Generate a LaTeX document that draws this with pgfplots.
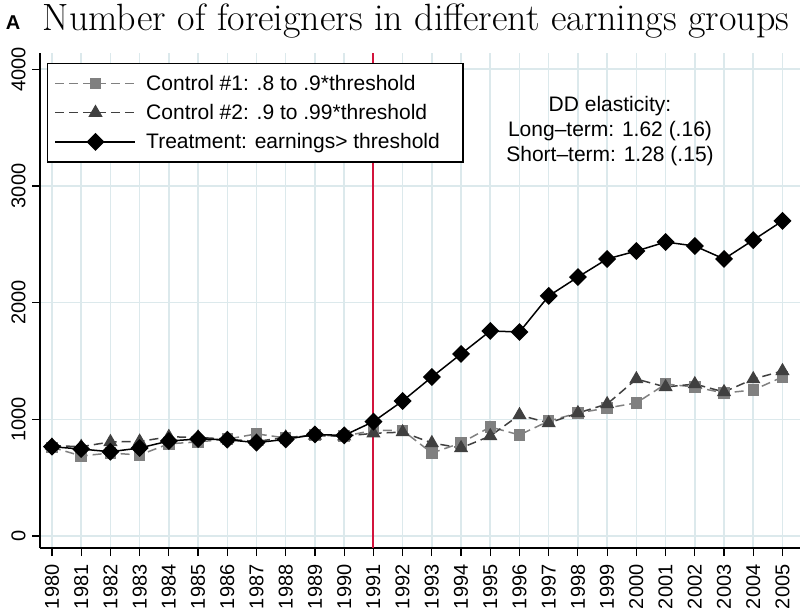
\documentclass[border=0pt]{standalone}
\usepackage{pgfplots}
\pgfplotsset{compat=1.18}
\usepackage{fontspec}
\newfontfamily\hv[Ligatures=TeX]{Liberation Sans}
\definecolor{gridc}{RGB}{220,233,236}
\definecolor{cone}{RGB}{128,128,128}
\definecolor{ctwo}{RGB}{64,64,64}
\definecolor{vred}{RGB}{210,20,60}

\pgfplotstableread{
year c1 c2 tr
1980 760 775 765
1981 686 765 745
1982 711 806 722
1983 694 810 754
1984 790 850 814
1985 806 845 831
1986 830 830 825
1987 875 810 800
1988 840 845 828
1989 865 860 870
1990 855 855 862
1991 905 880 980
1992 905 890 1157
1993 711 797 1362
1994 797 754 1560
1995 934 857 1757
1996 866 1037 1748
1997 985 968 2057
1998 1054 1054 2219
1999 1097 1131 2374
2000 1140 1345 2442
2001 1302 1277 2519
2002 1277 1302 2485
2003 1225 1234 2374
2004 1251 1345 2536
2005 1362 1414 2700
}\data

\begin{document}
\begin{tikzpicture}[x=1pt,y=1pt]
\path[use as bounding box] (0,0) rectangle (800,611);
\begin{axis}[
  at={(40pt,63pt)}, anchor=south west,
  scale only axis, width=760pt, height=495pt,
  xmin=1979.59, xmax=2005.6, ymin=-103, ymax=4139,
  axis x line*=bottom, axis y line*=left,
  axis line style={black, line width=1.2pt},
  xtick={1980,...,2005}, ytick={0,1000,2000,3000,4000},
  tick align=outside, major tick length=8pt,
  tick style={black, line width=1.2pt},
  grid=major, major grid style={gridc, line width=1.5pt},
  /pgf/number format/assume math mode=true,
  /pgf/number format/1000 sep={},
  tick label style={font=\hv\fontsize{20}{20}\selectfont},
  xticklabel style={rotate=90, anchor=east},
  yticklabel style={rotate=90, anchor=south},
  xticklabel shift=5pt, yticklabel shift=3pt,
  legend style={at={(0.0092,0.98)}, anchor=north west, draw=black, line width=1.5pt,
    font=\hv\fontsize{21}{24}\selectfont, fill=white, inner xsep=7pt, inner ysep=9.5pt,
    row sep=8.5pt, cells={anchor=west}},
  legend cell align=left,
  legend image code/.code={\draw[mark repeat=2,mark phase=2] plot coordinates {(0pt,0pt) (40pt,0pt) (80pt,0pt)}; \path (88pt,0pt);},
  clip=false,
]
\addplot[draw=vred, line width=2.2pt, forget plot, mark=none, solid] coordinates {(1991,-103) (1991,4139)};
\addplot[cone, line width=1.5pt, dash pattern=on 9pt off 5pt, mark=square*, mark size=5pt, mark options={solid, fill=cone}] table[x=year,y=c1] {\data};
\addlegendentry{Control \#1: .8 to .9*threshold}
\addplot[ctwo, line width=1.5pt, dash pattern=on 9pt off 5pt, mark=triangle*, mark size=6.7pt, mark options={solid, fill=ctwo}] table[x=year,y=c2] {\data};
\addlegendentry{Control \#2: .9 to .99*threshold}
\addplot[black, line width=1.5pt, mark=square*, mark size=5.6pt, mark options={solid, rotate=45, fill=black}] table[x=year,y=tr] {\data};
\addlegendentry{Treatment: earnings> threshold\hspace*{14pt}}
\end{axis}
\node[font=\fontsize{38}{44}\selectfont] at (416,590) {Number of foreigners in different earnings groups};
\node[font=\hv\bfseries\fontsize{20}{20}\selectfont] at (13,588) {A};
\node[font=\hv\fontsize{21}{25}\selectfont, align=center] at (610,480) {DD elasticity:\\Long--term: 1.62 (.16)\\Short--term: 1.28 (.15)};
\end{tikzpicture}
\end{document}
